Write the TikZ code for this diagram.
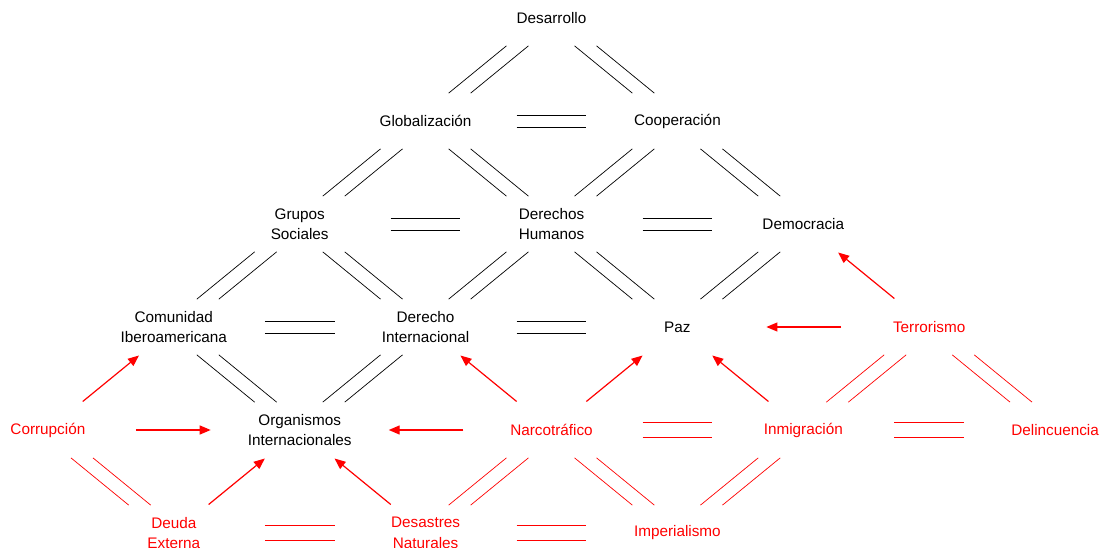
\documentclass[tikz,border=0pt]{standalone}
\usepackage{fontspec}
\setmainfont{Liberation Sans}
\usetikzlibrary{arrows.meta}
\tikzstyle{concepto} = [align=center, 
text centered, 
font=\fontsize{15.3}{20.5}\selectfont]
\tikzstyle{problema} = [concepto, text=red]
% dos trazos paralelos por relacion
\tikzstyle{enlace} = [shorten <=44pt, shorten >=44pt, 
preaction={draw=black, line width=0.7pt, transform canvas={xshift=-11pt}}, 
postaction={draw=black, line width=0.7pt, transform canvas={xshift=11pt}}]
\tikzstyle{enlacer} = [shorten <=44pt, shorten >=44pt, 
preaction={draw=red, line width=0.7pt, transform canvas={xshift=-11pt}}, 
postaction={draw=red, line width=0.7pt, transform canvas={xshift=11pt}}]
\tikzstyle{enlaceh} = [shorten <=91pt, shorten >=91pt, 
preaction={draw=black, line width=0.7pt, transform canvas={yshift=6pt}}, 
postaction={draw=black, line width=0.7pt, transform canvas={yshift=-6pt}}]
\tikzstyle{enlacehr} = [shorten <=91pt, shorten >=91pt, 
preaction={draw=red, line width=0.7pt, transform canvas={yshift=7.8pt}}, 
postaction={draw=red, line width=0.7pt, transform canvas={yshift=-7.8pt}}]
\tikzstyle{flecha} = [red, line width=1.2pt, ->, >={Triangle[length=11pt,width=9pt]}, 
shorten <=45pt, shorten >=45pt]
\tikzstyle{flechah} = [flecha, shorten <=88pt, shorten >=89pt]

\begin{document}
\begin{tikzpicture}[node distance=103pt]
\useasboundingbox (-551.5pt,18pt) rectangle (554.5pt,-530pt);

\node (desa) [concepto] {Desarrollo};

\node (glob) [concepto, below of=desa, xshift=-125.9pt] {Globalización};
\node (coop) [concepto, below of=desa, xshift=125.9pt] {Cooperación};

\node (grup) [concepto, below of=glob, xshift=-125.9pt] {Grupos\\Sociales};
\node (dhum) [concepto, below of=glob, xshift=125.9pt] {Derechos\\Humanos};
\node (demo) [concepto, below of=coop, xshift=125.9pt] {Democracia};

\node (comu) [concepto, below of=grup, xshift=-125.9pt] {Comunidad\\Iberoamericana};
\node (dint) [concepto, below of=grup, xshift=125.9pt] {Derecho\\Internacional};
\node (paz) [concepto, below of=dhum, xshift=125.9pt] {Paz};
\node (terr) [problema, below of=demo, xshift=125.9pt] {Terrorismo};

\node (corr) [problema, below of=comu, xshift=-125.9pt] {Corrupción};
\node (orga) [concepto, below of=comu, xshift=125.9pt] {Organismos\\Internacionales};
\node (narc) [problema, below of=dint, xshift=125.9pt] {Narcotráfico};
\node (inmi) [problema, below of=paz, xshift=125.9pt] {Inmigración};
\node (deli) [problema, below of=terr, xshift=125.9pt] {Delincuencia};

\node (deud) [problema, below of=orga, xshift=-125.9pt] {Deuda\\Externa};
\node (desas) [problema, below of=orga, xshift=125.9pt] {Desastres\\Naturales};
\node (impe) [problema, below of=narc, xshift=125.9pt] {Imperialismo};

% relaciones entre conceptos
\path [enlace] (desa.center) -- (glob.center);
\path [enlace] (desa.center) -- (coop.center);
\path [enlaceh] (glob.center) -- (coop.center);
\path [enlace] (glob.center) -- (grup.center);
\path [enlace] (glob.center) -- (dhum.center);
\path [enlace] (coop.center) -- (dhum.center);
\path [enlace] (coop.center) -- (demo.center);
\path [enlaceh] (grup.center) -- (dhum.center);
\path [enlaceh] (dhum.center) -- (demo.center);
\path [enlace] (grup.center) -- (comu.center);
\path [enlace] (grup.center) -- (dint.center);
\path [enlace] (dhum.center) -- (dint.center);
\path [enlace] (dhum.center) -- (paz.center);
\path [enlace] (demo.center) -- (paz.center);
\path [enlaceh] (comu.center) -- (dint.center);
\path [enlaceh] (dint.center) -- (paz.center);
\path [enlace] (comu.center) -- (orga.center);
\path [enlace] (dint.center) -- (orga.center);

% relaciones entre problemas
\path [enlacer] (corr.center) -- (deud.center);
\path [enlacehr] (deud.center) -- (desas.center);
\path [enlacer] (desas.center) -- (narc.center);
\path [enlacehr] (desas.center) -- (impe.center);
\path [enlacer] (narc.center) -- (impe.center);
\path [enlacehr] (narc.center) -- (inmi.center);
\path [enlacer] (inmi.center) -- (impe.center);
\path [enlacer] (inmi.center) -- (terr.center);
\path [enlacer] (terr.center) -- (deli.center);
\path [enlacehr] (inmi.center) -- (deli.center);

% efectos
\draw [flecha] (corr.center) -- (comu.center);
\draw [flechah] (corr.center) -- (orga.center);
\draw [flecha] (deud.center) -- (orga.center);
\draw [flecha] (desas.center) -- (orga.center);
\draw [flechah] (narc.center) -- (orga.center);
\draw [flecha] (narc.center) -- (dint.center);
\draw [flecha] (narc.center) -- (paz.center);
\draw [flecha] (inmi.center) -- (paz.center);
\draw [flechah] (terr.center) -- (paz.center);
\draw [flecha] (terr.center) -- (demo.center);

\end{tikzpicture}
\end{document}
